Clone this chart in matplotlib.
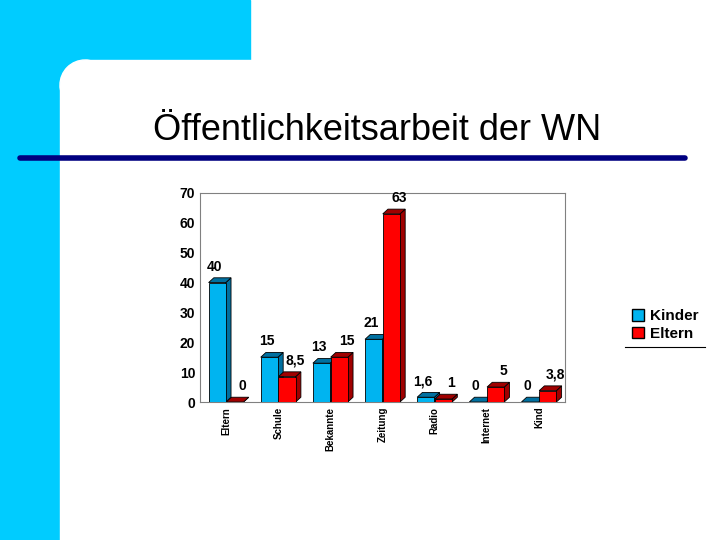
import matplotlib.pyplot as plt
from matplotlib.patches import Rectangle, Circle, Polygon

categories = ["Eltern", "Schule", "Bekannte", "Zeitung", "Radio", "Internet", "Kind"]
kinder = [40, 15, 13, 21, 1.6, 0, 0]
eltern = [0, 8.5, 15, 63, 1, 5, 3.8]
kinder_labels = ["40", "15", "13", "21", "1,6", "0", "0"]
eltern_labels = ["0", "8,5", "15", "63", "1", "5", "3,8"]

fig = plt.figure(figsize=(7.2, 5.4), dpi=100)

# slide background
bg = fig.add_axes([0, 0, 1, 1])
bg.set_xlim(0, 720)
bg.set_ylim(540, 0)
bg.set_aspect("auto")
bg.axis("off")
bg.add_patch(Rectangle((0, 0), 250, 60, color="#00ccff"))
bg.add_patch(Rectangle((0, 0), 60, 540, color="#00ccff"))
bg.add_patch(Rectangle((60, 60), 25, 25, color="#00ccff"))
bg.add_patch(Circle((85, 85), 25, color="white"))
bg.add_patch(Rectangle((85, 60), 640, 490, color="white"))
bg.add_patch(Rectangle((60, 85), 30, 460, color="white"))
bg.text(377, 130, "Öffentlichkeitsarbeit der WN", fontsize=26, ha="center", va="center",
        family="Liberation Sans")
bg.plot([20, 685], [158, 158], color="#000080", lw=4, solid_capstyle="round")

ax = fig.add_axes([200 / 720, 1 - 402 / 540, 365 / 720, 209 / 540])
ax.set_xlim(-0.5, 6.5)
ax.set_ylim(0, 70)
ax.set_yticks(range(0, 71, 10))
ax.set_yticklabels([str(v) for v in range(0, 71, 10)], fontsize=10, fontweight="bold",
                   family="Liberation Sans")
ax.set_xticks(range(len(categories)))
ax.set_xticklabels(categories, rotation=90, fontsize=7, fontweight="bold", family="Liberation Sans")
ax.tick_params(length=0)
for s in ax.spines.values():
    s.set_color("#808080")

w = 0.33
dx, dy = 0.1, 1.6


def draw_bars(xs, vals, face, side):
    ax.bar(xs, vals, width=w, color=face, edgecolor="black", linewidth=0.6, zorder=3)
    for x, v in zip(xs, vals):
        l, r = x - w / 2, x + w / 2
        ax.add_patch(Polygon([(r, 0), (r + dx, dy), (r + dx, v + dy), (r, v)],
                             closed=True, fc=side, ec="black", lw=0.6, zorder=2))
        ax.add_patch(Polygon([(l, v), (l + dx, v + dy), (r + dx, v + dy), (r, v)],
                             closed=True, fc=side, ec="black", lw=0.6, zorder=2))


xk = [i - 0.17 for i in range(len(categories))]
xe = [i + 0.17 for i in range(len(categories))]
draw_bars(xk, kinder, "#00b4f0", "#0070a0")
draw_bars(xe, eltern, "#ff0000", "#a00000")

for x, v, t in zip(xk, kinder, kinder_labels):
    ax.text(x - 0.05, v + 3, t, ha="center", va="bottom", fontsize=10, fontweight="bold",
            family="Liberation Sans")
for x, v, t in zip(xe, eltern, eltern_labels):
    ax.text(x + 0.15, v + 3, t, ha="center", va="bottom", fontsize=10, fontweight="bold",
            family="Liberation Sans")

h1 = Rectangle((0, 0), 1, 1, fc="#00b4f0", ec="black")
h2 = Rectangle((0, 0), 1, 1, fc="#ff0000", ec="black")
fig.legend([h1, h2], ["Kinder", "Eltern"], loc="center", bbox_to_anchor=(665 / 720, 1 - 325 / 540),
           frameon=False, prop={"size": 11, "weight": "bold", "family": "Liberation Sans"},
           handlelength=0.8, handleheight=0.8, handletextpad=0.4, labelspacing=0.2)
bg.plot([625, 705], [347, 347], color="black", lw=0.8)

fig.savefig("out.png", dpi=100)
